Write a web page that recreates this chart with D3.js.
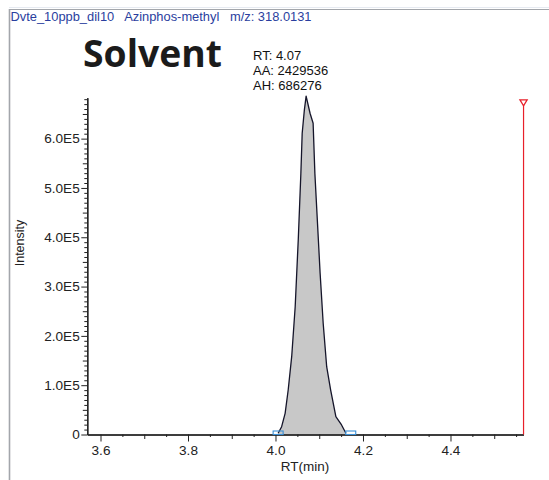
<!DOCTYPE html>
<html>
<head>
<meta charset="utf-8">
<script src="https://cdn.jsdelivr.net/npm/d3@7"></script>
<style>
  body { margin: 0; background: #fff; }
  svg { display: block; }
</style>
</head>
<body>
<script>
// Extracted ion chromatogram, Azinphos-methyl
const titleText = "Dvte_10ppb_dil10   Azinphos-methyl   m/z: 318.0131";
const sampleLabel = "Solvent";
const peakInfo = ["RT: 4.07", "AA: 2429536", "AH: 686276"];

// retention time (min) and intensity of the trace
const rtMin = [4.006, 4.014, 4.022, 4.029, 4.037, 4.045, 4.052, 4.058, 4.061, 4.066, 4.070,
               4.079, 4.086, 4.090, 4.096, 4.102, 4.109, 4.117, 4.126, 4.138, 4.151, 4.161];
const intensity = [2400, 15800, 43000, 90300, 157800, 259200, 394500, 529800, 611000, 658200, 686276,
                   651500, 631200, 529800, 428400, 327000, 225600, 137500, 90300, 36100, 19300, 2400];

// integration boundaries and the marker line
const peakBounds = [4.006, 4.172];
const markerRT = 4.567;

const xTicks = [3.6, 3.8, 4.0, 4.2, 4.4];
const xTickLabels = ["3.6", "3.8", "4.0", "4.2", "4.4"];
const yTicks = [0, 1e5, 2e5, 3e5, 4e5, 5e5, 6e5];
const yTickLabels = ["0", "1.0E5", "2.0E5", "3.0E5", "4.0E5", "5.0E5", "6.0E5"];

const W = 549, H = 480;
const font = "'Liberation Sans', Arial, sans-serif";

const svg = d3.select("body").append("svg").attr("width", W).attr("height", H);

// window frame
svg.append("line").attr("x1", 9).attr("x2", W).attr("y1", 7.5).attr("y2", 7.5)
  .attr("stroke", "#e6eaf1").attr("stroke-width", 1);
svg.append("line").attr("x1", 9).attr("x2", W).attr("y1", 9.5).attr("y2", 9.5)
  .attr("stroke", "#a3a6ab").attr("stroke-width", 1.2);
svg.append("line").attr("x1", 9.5).attr("x2", 9.5).attr("y1", 9).attr("y2", H)
  .attr("stroke", "#a3a6ab").attr("stroke-width", 1.6);

// header
svg.append("text").attr("x", 10.5).attr("y", 20.5)
  .attr("font-family", font).attr("font-size", 13).attr("fill", "#2a3e9e")
  .attr("textLength", 301).attr("lengthAdjust", "spacingAndGlyphs")
  .style("white-space", "pre").text(titleText);

svg.append("text").attr("x", 83).attr("y", 66.5)
  .attr("font-family", "'Open Sans', sans-serif").attr("font-weight", 700)
  .attr("font-size", 37).attr("fill", "#1b1b1b")
  .attr("textLength", 139).attr("lengthAdjust", "spacingAndGlyphs")
  .text(sampleLabel);

svg.append("g").selectAll("text").data(peakInfo).join("text")
  .attr("x", 253).attr("y", (d, i) => 60 + i * 15.2)
  .attr("font-family", font).attr("font-size", 13).attr("fill", "#111")
  .text(d => d);

// scales
const x = d3.scaleLinear().domain([3.5698, 4.5669]).range([87.3, 523.5]);
const y = d3.scaleLinear().domain([0, 683000]).range([434.5, 97.7]);

// peak area
const area = d3.area().x((d, i) => x(rtMin[i])).y0(y(0)).y1(d => y(d));
const line = d3.line().x((d, i) => x(rtMin[i])).y(d => y(d));
svg.append("path").datum(intensity).attr("d", area).attr("fill", "#c8c8c8");
svg.append("path").datum(intensity).attr("d", line)
  .attr("fill", "none").attr("stroke", "#15152a").attr("stroke-width", 1.3)
  .attr("stroke-linejoin", "round");

// axes: minor, medium and major ticks
function styleAxis(g) {
  g.selectAll("path,line").attr("stroke", "#222").attr("stroke-width", 1);
  g.selectAll("text").attr("font-family", font).attr("font-size", 13.6).attr("fill", "#222");
}
const yMinor = d3.range(0, 683000, 10000).filter(v => v % 50000 !== 0);
const yMid = d3.range(50000, 683000, 100000);
svg.append("g").attr("transform", `translate(${x.range()[0]},0)`)
  .call(d3.axisLeft(y).tickValues(yMinor).tickSize(3).tickSizeOuter(0).tickFormat(""))
  .call(styleAxis);
svg.append("g").attr("transform", `translate(${x.range()[0]},0)`)
  .call(d3.axisLeft(y).tickValues(yMid).tickSize(4.5).tickSizeOuter(0).tickFormat(""))
  .call(styleAxis);
svg.append("g").attr("transform", `translate(${x.range()[0]},0)`)
  .call(d3.axisLeft(y).tickValues(yTicks).tickSize(6).tickPadding(1.6).tickSizeOuter(0)
    .tickFormat((d, i) => yTickLabels[i]))
  .call(styleAxis);

const xMinor = d3.range(3.65, 4.57, 0.1);
const xMid = d3.range(3.7, 4.57, 0.2);
svg.append("g").attr("transform", `translate(0,${y(0)})`)
  .call(d3.axisBottom(x).tickValues(xMinor).tickSize(2.5).tickSizeOuter(0).tickFormat(""))
  .call(styleAxis);
svg.append("g").attr("transform", `translate(0,${y(0)})`)
  .call(d3.axisBottom(x).tickValues(xMid).tickSize(4.5).tickSizeOuter(0).tickFormat(""))
  .call(styleAxis);
svg.append("g").attr("transform", `translate(0,${y(0)})`)
  .call(d3.axisBottom(x).tickValues(xTicks).tickSize(7).tickPadding(4).tickSizeOuter(0)
    .tickFormat((d, i) => xTickLabels[i]))
  .call(styleAxis);

// axis titles
svg.append("text").attr("x", 305).attr("y", 471).attr("text-anchor", "middle")
  .attr("font-family", font).attr("font-size", 13.5).attr("fill", "#222").text("RT(min)");
svg.append("text").attr("transform", "translate(23.5,243) rotate(-90)").attr("text-anchor", "middle")
  .attr("font-family", font).attr("font-size", 12.5).attr("fill", "#222").text("Intensity");

// integration boundary markers
svg.append("g").selectAll("rect").data(peakBounds).join("rect")
  .attr("x", d => x(d) - 5).attr("y", y(0) - 3.5).attr("width", 10).attr("height", 3.5)
  .attr("fill", "none").attr("stroke", "#3a8fd6").attr("stroke-width", 1.1);

// marker line with triangle
const mx = x(markerRT);
svg.append("line").attr("x1", mx).attr("x2", mx).attr("y1", 105).attr("y2", y(0))
  .attr("stroke", "#e8202a").attr("stroke-width", 1.2);
svg.append("path").attr("d", `M${mx - 3.6},99.8 L${mx + 3.6},99.8 L${mx},105.8 Z`)
  .attr("fill", "#fff").attr("stroke", "#e8202a").attr("stroke-width", 1.3);
</script>
</body>
</html>
